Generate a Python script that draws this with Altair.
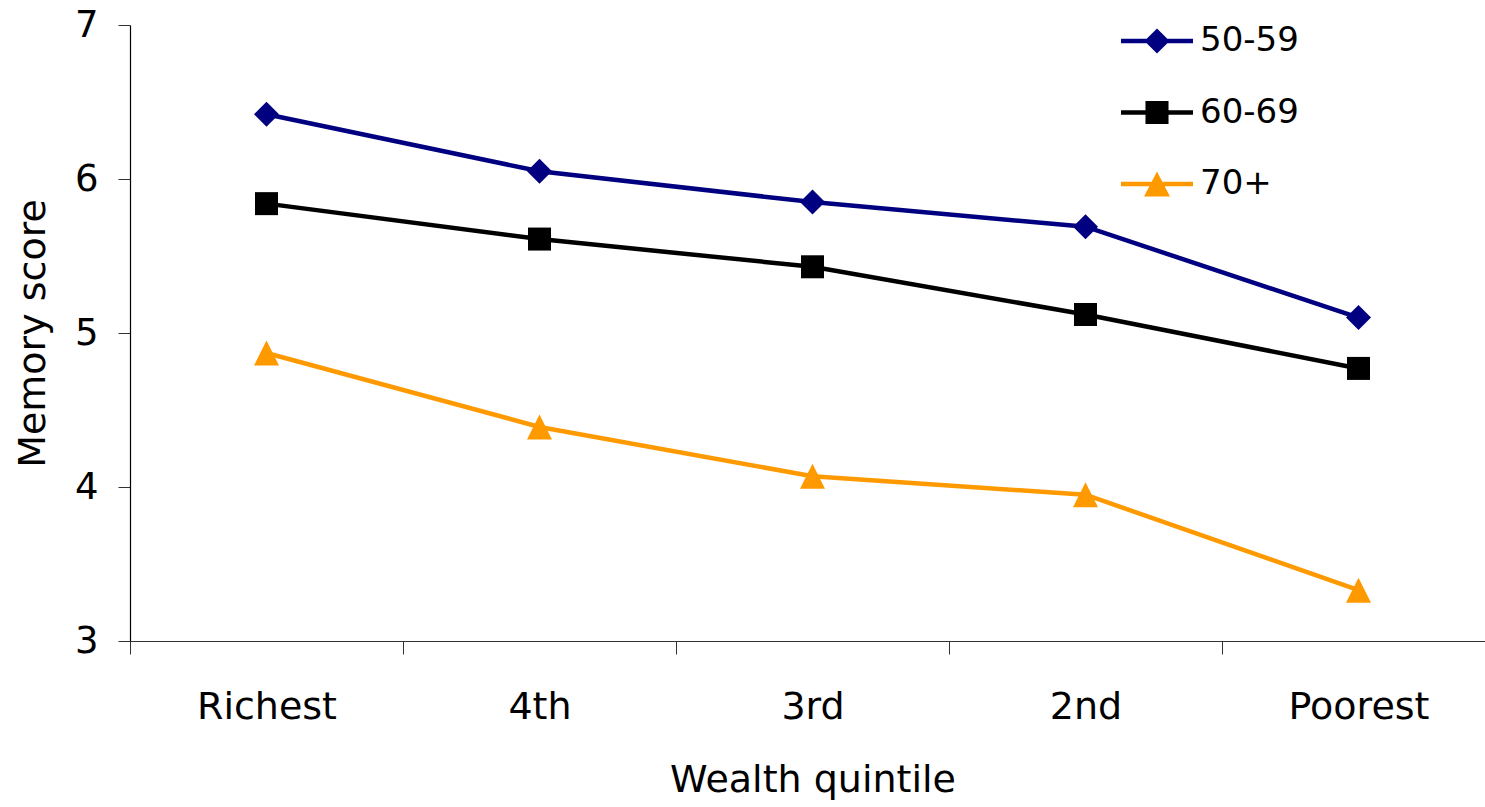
import altair as alt
import pandas as pd

# Wealth quintiles (x categories) and age groups (series)
quintiles = ["Richest", "4th", "3rd", "2nd", "Poorest"]
groups = ["50-59", "60-69", "70+"]

# Mean memory score per quintile, one list per age group
score_50_59 = [6.42, 6.05, 5.85, 5.69, 5.10]
score_60_69 = [5.84, 5.61, 5.43, 5.12, 4.77]
score_70_plus = [4.87, 4.39, 4.07, 3.95, 3.33]

series_colors = ["#000080", "#000000", "#FF9900"]
y_ticks = [3, 4, 5, 6, 7]

FONT = "DejaVu Sans"

rows = []
for g, vals in zip(groups, [score_50_59, score_60_69, score_70_plus]):
    for q, v in zip(quintiles, vals):
        rows.append({"quintile": q, "group": g, "score": v})
df = pd.DataFrame(rows)

# Marker outlines (diamond, square, triangle) in unit symbol coordinates
marker_paths = [
    "M0,-1L1,0L0,1L-1,0Z",
    "M-0.92,-0.92L0.92,-0.92L0.92,0.92L-0.92,0.92Z",
    "M0,-1L1,1L-1,1Z",
]
# Legend swatches: a short line segment with the marker on top
bar = "M-1,-0.06L1,-0.06L1,0.06L-1,0.06Z"
legend_paths = [
    bar + " M0,-0.35L0.35,0L0,0.35L-0.35,0Z",
    bar + " M-0.32,-0.32L0.32,-0.32L0.32,0.32L-0.32,0.32Z",
    bar + " M0,-0.35L0.36,0.35L-0.36,0.35Z",
]

x_enc = alt.X(
    "quintile:N",
    sort=quintiles,
    bandPosition=0.5,
    scale=alt.Scale(type="band", domain=quintiles, range=[0, 1365],
                    paddingInner=0, paddingOuter=0),
    axis=alt.Axis(
        title="Wealth quintile",
        tickBand="extent",
        labelAngle=0,
        labelFont=FONT, labelFontSize=38, labelColor="#000000",
        labelPadding=34,
        tickSize=13, tickColor="#333333", tickWidth=1,
        domainColor="#333333", domainWidth=1.2,
        titleFont=FONT, titleFontSize=38, titleFontWeight="normal",
        titleColor="#000000", titlePadding=35,
        grid=False,
    ),
)

y_enc = alt.Y(
    "score:Q",
    scale=alt.Scale(domain=[3, 7], nice=False, zero=False),
    axis=alt.Axis(
        values=y_ticks,
        title="Memory score",
        labelFont=FONT, labelFontSize=37, labelColor="#000000",
        labelPadding=20,
        tickSize=12, tickColor="#333333", tickWidth=1,
        domainColor="#000000", domainWidth=1.2,
        titleFont=FONT, titleFontSize=38, titleFontWeight="normal",
        titleColor="#000000",
        titleX=-86, titleY=308, titleAlign="center",
        titleBaseline="alphabetic",
        grid=False,
    ),
)

color_scale = alt.Scale(domain=groups, range=series_colors)

lines = alt.Chart(df).mark_line(strokeWidth=4.5).encode(
    x=x_enc,
    y=y_enc,
    color=alt.Color("group:N", scale=color_scale, legend=None),
    detail="group:N",
)

points = alt.Chart(df).mark_point(filled=True, size=625, opacity=1, strokeWidth=0).encode(
    x=x_enc,
    y=y_enc,
    color=alt.Color("group:N", scale=color_scale, legend=None),
    shape=alt.Shape("group:N", scale=alt.Scale(domain=groups, range=marker_paths), legend=None),
)

legend_props = dict(
    orient="none", legendX=991, legendY=-20, title=None,
    symbolSize=5184, symbolStrokeWidth=0, symbolOpacity=1,
    labelFont=FONT, labelFontSize=34, labelColor="#000000",
    labelOffset=7, rowPadding=18.5, padding=0,
)

legend_layer = alt.Chart(df).mark_point(filled=True, opacity=0).encode(
    x=x_enc,
    y=y_enc,
    color=alt.Color("group:N", scale=color_scale, legend=alt.Legend(**legend_props)),
    shape=alt.Shape("group:N", scale=alt.Scale(domain=groups, range=legend_paths),
                    legend=alt.Legend(**legend_props)),
)

chart = (
    alt.layer(lines, points, legend_layer)
    .resolve_scale(color="independent", shape="independent")
    .properties(
        width=1355,
        height=616,
        autosize=alt.AutoSizeParams(type="none"),
        padding={"left": 130, "top": 25, "right": 0, "bottom": 166},
        background="#ffffff",
    )
    .configure_view(stroke=None)
)

chart.save("out.html", embed_options={"renderer": "svg", "actions": False})
